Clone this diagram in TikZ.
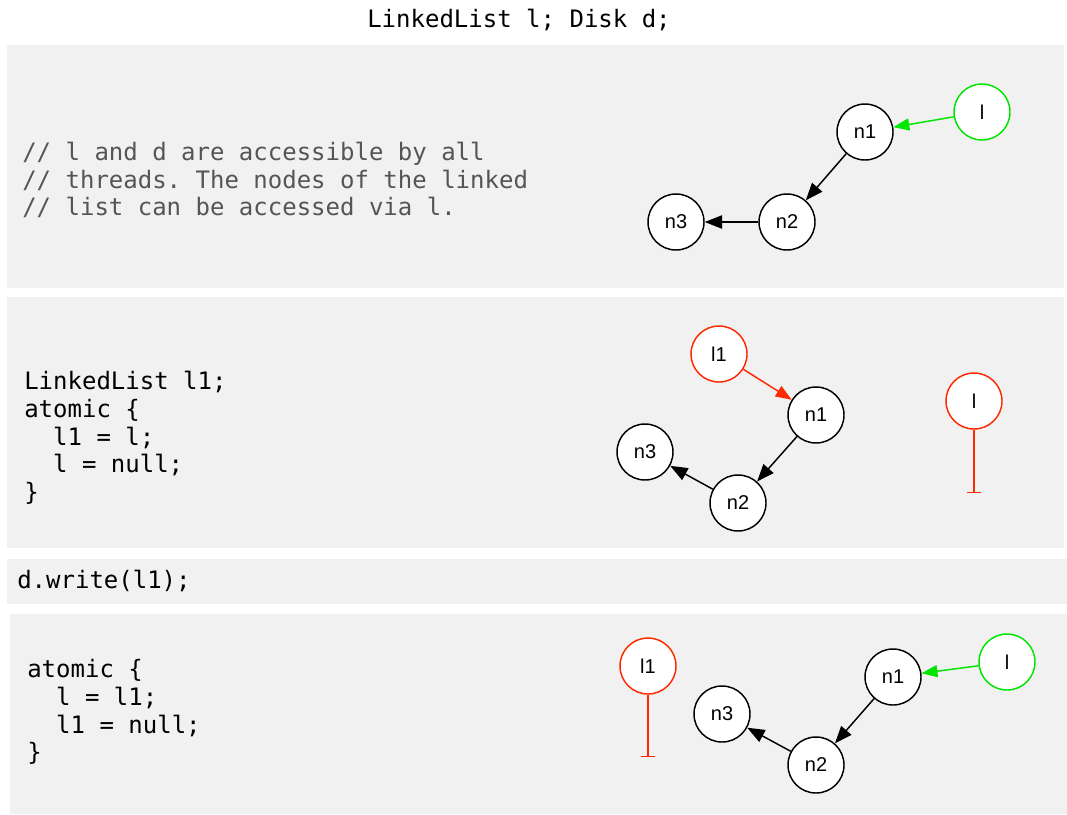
\documentclass[tikz,border=0pt]{standalone}
\usepackage{fontspec}
\setmonofont{DejaVu Sans Mono}
\setsansfont{Liberation Sans}
\usetikzlibrary{arrows.meta}
\definecolor{panelgray}{RGB}{241,241,241}
\definecolor{commentgray}{RGB}{85,85,85}
\definecolor{ptrgreen}{RGB}{0,230,0}
\definecolor{ptrred}{RGB}{255,42,0}
\begin{document}
\begin{tikzpicture}[x=0.75pt,y=-0.75pt,
  panel/.style={fill=panelgray,draw=none},
  codetext/.style={font=\ttfamily\fontsize{18}{20.8}\selectfont,align=left,inner sep=0pt,anchor=west},
  obj/.style={circle,draw=black,fill=white,line width=1.1pt,minimum size=42pt,inner sep=0pt,font=\sffamily\fontsize{15}{17}\selectfont},
  gref/.style={obj,draw=ptrgreen},
  rref/.style={obj,draw=ptrred},
  link/.style={line width=1.1pt,-{Triangle[length=13pt,width=10pt]}},
  glink/.style={link,draw=ptrgreen,-{Triangle[length=12pt,width=9pt,fill=ptrgreen]}},
  rlink/.style={link,draw=ptrred,-{Triangle[length=12pt,width=9pt,fill=ptrred]}},
  nullref/.style={line width=1.1pt,draw=ptrred,-{Bar[width=11pt,line width=1.1pt]}}
]
\useasboundingbox (0,0) rectangle (1067,814);
\fill[white] (0,0) rectangle (1067,814);
% panels
\fill[panel] (7,45) rectangle (1064,288);
\fill[panel] (7,297) rectangle (1064,548);
\fill[panel] (7,559) rectangle (1067,604);
\fill[panel] (10,614) rectangle (1067,814);
% title
\node[codetext,anchor=center] (title) at (519,20) {LinkedList l; Disk d;};
% panel 1
\node[codetext,text=commentgray] (comment) at (22,180) {// l and d are accessible by all\\// threads. The nodes of the linked\\// list can be accessed via l.};
\node[obj] (a1) at (865,132) {n1};
\node[obj] (a2) at (787,222) {n2};
\node[obj] (a3) at (676,222) {n3};
\node[gref] (al) at (982,112) {l};
\draw[glink] (al) -- (a1);
\draw[link] (a1) -- (a2);
\draw[link] (a2) -- (a3);
% panel 2
\node[codetext] (code2) at (24,438) {LinkedList l1;\\atomic \{\\\ \ l1 = l;\\\ \ l = null;\\\}};
\node[rref] (bl1) at (719,354) {l1};
\node[obj] (b1) at (816,415) {n1};
\node[obj] (b2) at (738,503) {n2};
\node[obj] (b3) at (645,452) {n3};
\node[rref] (bl) at (974,401) {l};
\coordinate (blend) at (974,493);
\draw[rlink] (bl1) -- (b1);
\draw[link] (b1) -- (b2);
\draw[link] (b2) -- (b3);
\draw[nullref] (bl) -- (blend);
% panel 3
\node[codetext] (code3) at (17,581) {d.write(l1);};
% panel 4
\node[codetext] (code4) at (27,712) {atomic \{\\\ \ l = l1;\\\ \ l1 = null;\\\}};
\node[rref] (cl1) at (648,666) {l1};
\coordinate (clend) at (648,757);
\node[obj] (c1) at (893,677) {n1};
\node[obj] (c2) at (816,765) {n2};
\node[obj] (c3) at (722,714) {n3};
\node[gref] (cl) at (1007,662) {l};
\draw[nullref] (cl1) -- (clend);
\draw[glink] (cl) -- (c1);
\draw[link] (c1) -- (c2);
\draw[link] (c2) -- (c3);
\end{tikzpicture}
\end{document}
